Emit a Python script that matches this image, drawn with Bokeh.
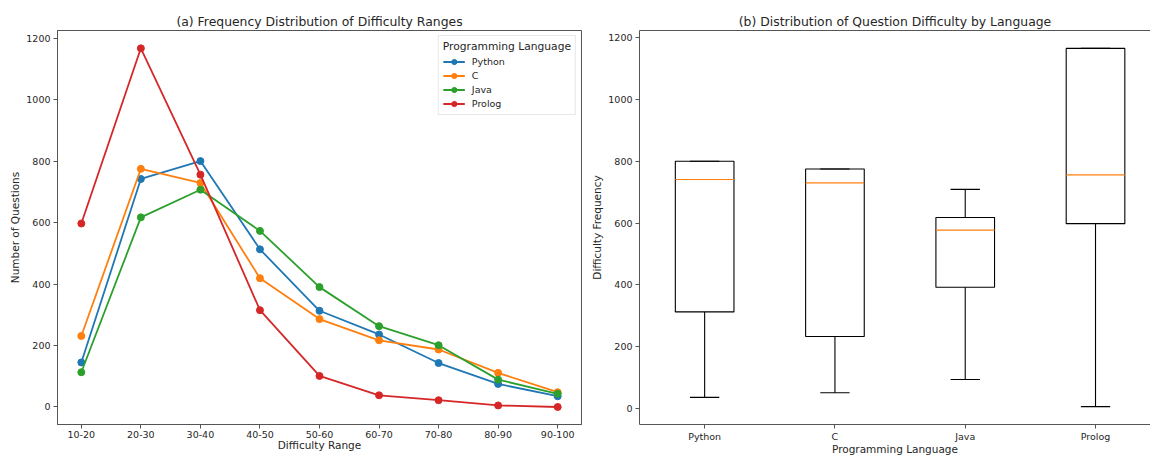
from bokeh.plotting import figure
from bokeh.layouts import row
from bokeh.models import (FixedTicker, Legend, LegendItem, LinearAxis, Range1d,
                          ColumnDataSource)
from bokeh.embed import file_html
from bokeh.resources import INLINE

# ---------------- data ----------------
difficulty_ranges = ["10-20", "20-30", "30-40", "40-50", "50-60",
                     "60-70", "70-80", "80-90", "90-100"]
languages = ["Python", "C", "Java", "Prolog"]

python_counts = [145, 742, 800, 513, 313, 236, 143, 75, 35]
c_counts = [231, 775, 729, 419, 286, 217, 187, 111, 48]
java_counts = [113, 617, 707, 573, 390, 263, 201, 89, 43]
prolog_counts = [597, 1167, 756, 315, 101, 38, 22, 5, 0]

# box-plot statistics per language
box_lower = [35, 50, 93, 5]
box_q1 = [312, 232, 392, 598]
box_median = [741, 730, 577, 756]
box_q3 = [800, 775, 618, 1166]
box_upper = [800, 775, 709, 1166]

y_ticks = [0, 200, 400, 600, 800, 1000, 1200]

colors = ["#1f77b4", "#ff7f0e", "#2ca02c", "#d62728"]
FONT = "DejaVu Sans"
SPINE = "#555555"
TEXT = "#262626"


def style_axes(p):
    for ax in p.axis:
        ax.axis_line_color = SPINE
        ax.axis_line_width = 1
        ax.major_tick_line_color = SPINE
        ax.major_tick_out = 4
        ax.major_tick_in = 0
        ax.minor_tick_line_color = None
        ax.major_label_text_font = FONT
        ax.major_label_text_font_size = "9.5px"
        ax.major_label_text_color = TEXT
        ax.major_label_standoff = 3
        ax.axis_label_text_font = FONT
        ax.axis_label_text_font_size = "10.5px"
        ax.axis_label_text_font_style = "normal"
        ax.axis_label_text_color = TEXT
        ax.axis_label_standoff = 2
    for ax in p.xaxis:
        ax.major_label_standoff = 2
        ax.axis_label_standoff = -2
    p.xgrid.grid_line_color = None
    p.ygrid.grid_line_color = None
    p.title.text_font = FONT
    p.title.text_font_size = "12.4px"
    p.title.text_font_style = "normal"
    p.title.text_color = TEXT
    p.title.align = "center"
    p.title.standoff = 4


# ---------------- panel (a) ----------------
x_idx = list(range(len(difficulty_ranges)))
p1 = figure(width=588, height=457, output_backend="svg", toolbar_location=None,
            title="(a) Frequency Distribution of Difficulty Ranges",
            x_range=Range1d(-0.4, len(difficulty_ranges) - 0.6),
            y_range=Range1d(-57, 1225),
            min_border_left=57, min_border_right=7,
            min_border_top=30, min_border_bottom=25)
p1.outline_line_color = SPINE
p1.outline_line_alpha = 1
p1.outline_line_width = 1

series = [python_counts, c_counts, java_counts, prolog_counts]
items = []
for lang, vals, col in zip(languages, series, colors):
    src = ColumnDataSource(dict(x=x_idx, y=vals))
    ln = p1.line("x", "y", source=src, line_color=col, line_width=1.8)
    sc = p1.scatter("x", "y", source=src, size=7, fill_color=col, line_color=col)
    items.append(LegendItem(label=lang, renderers=[ln, sc]))

p1.xaxis.ticker = FixedTicker(ticks=x_idx)
p1.xaxis.major_label_overrides = {i: r for i, r in enumerate(difficulty_ranges)}
p1.yaxis.ticker = FixedTicker(ticks=y_ticks)
p1.xaxis.axis_label = "Difficulty Range"
p1.yaxis.axis_label = "Number of Questions"
style_axes(p1)

legend = Legend(items=items, location="top_right")
legend.title = "Programming Language"
legend.title_text_font = FONT
legend.title_text_font_size = "10.7px"
legend.title_text_font_style = "normal"
legend.title_text_color = TEXT
legend.title_standoff = 2
legend.label_text_font = FONT
legend.label_text_font_size = "9.5px"
legend.label_text_color = TEXT
legend.label_height = 13
legend.glyph_height = 13
legend.glyph_width = 22
legend.label_standoff = 7
legend.spacing = 1
legend.padding = 4
legend.margin = 5
legend.border_line_color = "#d0d0d0"
legend.border_line_width = 1
legend.background_fill_alpha = 0.85
p1.add_layout(legend, "center")

# ---------------- panel (b) ----------------
pos = [i + 1 for i in range(len(languages))]
box_w = 0.45
cap_w = box_w / 2

p2 = figure(width=562, height=457, output_backend="svg", toolbar_location=None,
            title="(b) Distribution of Question Difficulty by Language",
            x_range=Range1d(0.5, 4.422), y_range=Range1d(-53, 1224),
            min_border_left=49, min_border_right=0,
            min_border_top=30, min_border_bottom=25)
p2.outline_line_color = None

bsrc = ColumnDataSource(dict(
    x=pos, lower=box_lower, q1=box_q1, med=box_median, q3=box_q3, upper=box_upper,
    xl=[v - box_w / 2 for v in pos], xr=[v + box_w / 2 for v in pos],
    cl=[v - cap_w / 2 for v in pos], cr=[v + cap_w / 2 for v in pos],
))
p2.segment(x0="x", y0="q1", x1="x", y1="lower", source=bsrc, line_color="black", line_width=1.1)
p2.segment(x0="x", y0="q3", x1="x", y1="upper", source=bsrc, line_color="black", line_width=1.1)
p2.segment(x0="cl", y0="lower", x1="cr", y1="lower", source=bsrc, line_color="black", line_width=1.1)
p2.segment(x0="cl", y0="upper", x1="cr", y1="upper", source=bsrc, line_color="black", line_width=1.1)
p2.vbar(x="x", width=box_w, bottom="q1", top="q3", source=bsrc,
        fill_color=None, line_color="black", line_width=1.1)
p2.segment(x0="xl", y0="med", x1="xr", y1="med", source=bsrc, line_color="#ff7f0e", line_width=1.1)

p2.xaxis.ticker = FixedTicker(ticks=pos)
p2.xaxis.major_label_overrides = {v: l for v, l in zip(pos, languages)}
p2.yaxis.ticker = FixedTicker(ticks=y_ticks)
p2.xaxis.axis_label = "Programming Language"
p2.yaxis.axis_label = "Difficulty Frequency"

top_axis = LinearAxis(ticker=FixedTicker(ticks=[]))
p2.add_layout(top_axis, "above")
style_axes(p2)
top_axis.major_tick_line_color = None
top_axis.major_label_text_font_size = "0px"
top_axis.major_label_standoff = 0
top_axis.major_tick_out = 0

layout = row(p1, p2)
open("out.html", "w").write(file_html(layout, INLINE))
